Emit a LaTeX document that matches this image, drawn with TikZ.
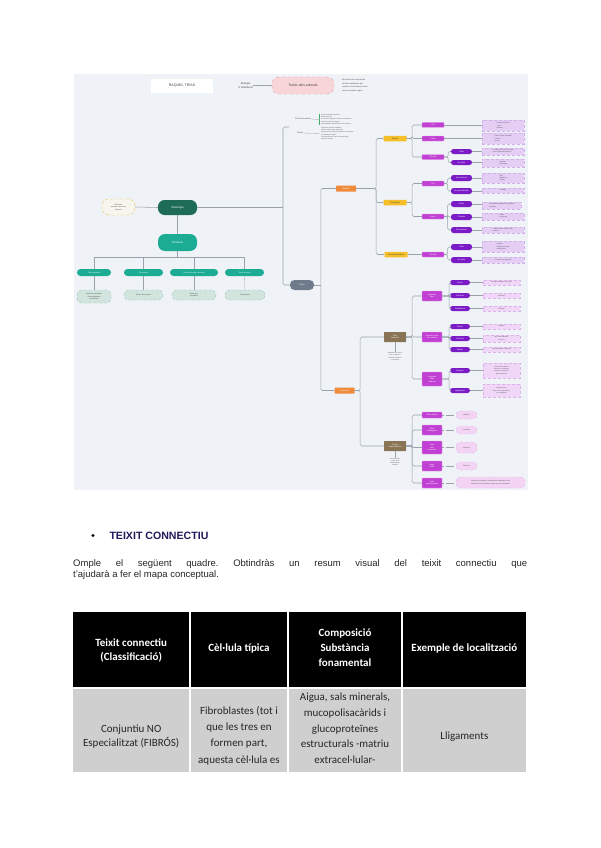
\documentclass[tikz,border=0pt]{standalone}
\usepackage{fontspec}
\setmainfont{Liberation Sans}
\newfontfamily\carl{Carlito}
\frenchspacing
\definecolor{bgC}{HTML}{EFF3F7}
\definecolor{lineC}{HTML}{9AA3AD}
\definecolor{pinkF}{HTML}{F8D5D8}
\definecolor{pinkB}{HTML}{E59AA4}
\definecolor{darkG}{HTML}{1E6B58}
\definecolor{tealC}{HTML}{1CAB93}
\definecolor{lightT}{HTML}{D2E4DE}
\definecolor{lightTB}{HTML}{8DBFAF}
\definecolor{defF}{HTML}{F7F6EE}
\definecolor{defB}{HTML}{EFC14A}
\definecolor{grayN}{HTML}{6E7B8A}
\definecolor{orC}{HTML}{EF8A3B}
\definecolor{yelC}{HTML}{F5BF2A}
\definecolor{magC}{HTML}{C13FD3}
\definecolor{magB}{HTML}{E6A3EE}
\definecolor{purC}{HTML}{7A1BC6}
\definecolor{lpC}{HTML}{E5CEF4}
\definecolor{lpB}{HTML}{D3B0EA}
\definecolor{lpkC}{HTML}{F0D6F7}
\definecolor{lpkB}{HTML}{DDB2EA}
\definecolor{rC}{HTML}{F4D4F4}
\definecolor{brC}{HTML}{8A7456}
\definecolor{txC}{HTML}{444444}
\definecolor{navyC}{HTML}{1F1A5A}
\definecolor{cellC}{HTML}{CFCFCF}
\definecolor{brkC}{HTML}{3FAE6A}
\tikzset{
  sz/.style 2 args={minimum width=#1pt, minimum height=#2pt},
  ln/.style={draw=lineC, line width=0.55pt},
  rc/.style={rounded corners=1.5pt},
  mm/.style={inner sep=0pt, align=center, text=white, font=\fontsize{2}{2.5}\selectfont},
  mmt/.style={inner sep=0pt, text=txC, font=\fontsize{1.7}{2.3}\selectfont},
  titleb/.style={mm, fill=white, text=txC, font=\fontsize{3.6}{4}\selectfont},
  pinkn/.style={mm, fill=pinkF, draw=pinkB, dashed, line width=0.4pt, rounded corners=7pt, text=txC, font=\fontsize{3.4}{4}\selectfont},
  hist/.style={mm, fill=darkG, rounded corners=6.5pt, font=\fontsize{2.8}{3.2}\selectfont},
  defn/.style={mm, fill=defF, draw=defB, densely dashed, line width=0.4pt, rounded corners=7pt, text=txC, font=\fontsize{1.8}{2.4}\selectfont},
  divn/.style={mm, fill=tealC, rounded corners=7pt, font=\fontsize{2.8}{3.2}\selectfont},
  tealn/.style={mm, fill=tealC, rounded corners=3.5pt},
  lightn/.style={mm, fill=lightT, draw=lightTB, densely dashed, line width=0.3pt, rounded corners=4.5pt, text=txC, font=\fontsize{1.7}{2.3}\selectfont},
  grayn/.style={mm, fill=grayN, rounded corners=4.5pt, font=\fontsize{2.2}{2.6}\selectfont},
  orn/.style={mm, fill=orC, rounded corners=0.5pt},
  yeln/.style={mm, fill=yelC, rounded corners=0.5pt, text=txC},
  magn/.style={mm, fill=magC, draw=magB, line width=0.3pt, rounded corners=0.6pt},
  purn/.style={mm, fill=purC, rounded corners=2.5pt},
  brn/.style={mm, fill=brC, rounded corners=0.5pt},
  lpbox/.style={mmt, fill=lpC, draw=lpB, densely dashed, line width=0.3pt, align=left, font=\fontsize{1.5}{2.1}\selectfont},
  lpkbox/.style={mmt, fill=lpkC, draw=lpkB, densely dashed, line width=0.3pt, align=center, font=\fontsize{1.5}{2.1}\selectfont},
  rn/.style={mmt, fill=rC, draw=lpkB, densely dashed, line width=0.3pt, rounded corners=4pt, align=center, font=\fontsize{1.6}{2.2}\selectfont},
  hd/.style={inner sep=0pt, align=center, text=white, font=\carl\bfseries\fontsize{11}{14.5}\selectfont},
  cl/.style={inner sep=0pt, align=center, text=black!85, font=\carl\fontsize{11}{15.8}\selectfont},
}
\begin{document}
\begin{tikzpicture}[x=1pt,y=-1pt]
\useasboundingbox (0,0) rectangle (600,848);
\fill[white] (0,0) rectangle (600,848);
% ---------- mind map background ----------
\fill[bgC] (74,74) rectangle (528,490);

% header
\node[titleb, sz={62}{14}] (title) at (182,86) {RAQUEL TRIAS};
\node[mmt, align=center, font=\fontsize{2.6}{4.4}\selectfont] (ubic) at (245.5,85.5) {Biologia\\1r Batxillerat};
\node[pinkn, sz={62}{17}] (pink) at (303,85.5) {Teixits dels animals};
\node[mmt, anchor=west, align=left, font=\fontsize{2}{3.7}\selectfont] (note) at (342,85.5) {Els teixits són conjunts de\\cèl·lules semblants que\\realitzen una mateixa funció i\\tenen un mateix origen};
\draw[ln] (ubic.east) -- (pink.west);

% top labels
\node[mmt, font=\fontsize{2}{2.4}\selectfont] (lab1) at (303,119) {Cèl·lula eucariota};
\node[mmt, anchor=west, align=left, font=\fontsize{1.5}{2.4}\selectfont] (txt1) at (321,119.5) {Unitat estructural i funcional\\dels éssers vius\\conté nucli i orgànuls envoltats de membrana\\forma els teixits i els òrgans\\especialització i diferenciació de les cèl·lules};
\draw[brkC, line width=0.5pt] ([xshift=-1.5pt]txt1.north west) -- ([xshift=-1.5pt]txt1.south west);
\draw[ln, line width=0.3pt] (lab1.east) -- ([xshift=-1.5pt]txt1.west);
\node[mmt, font=\fontsize{2}{2.4}\selectfont] (lab2) at (300,133) {Teixits};
\node[mmt, anchor=west, align=left, font=\fontsize{1.5}{2.3}\selectfont] (txt2) at (321,133.5) {conjunt de cèl·lules semblants\\amb un mateix origen embrionari\\que fan una funció determinada dins l'organisme\\es classifiquen segons\\la seva estructura i funció en quatre tipus\\de teixits animals};
\draw[ln, line width=0.3pt] (lab2.east) -- ([xshift=-1pt]txt2.west);

% centre
\node[hist, sz={39}{15}] (hist) at (177.5,207.5) {Histologia};
\node[defn, sz={33}{16}] (def) at (118.5,207) {Els teixits\\animals i les seves\\funcions};
\node[divn, sz={39}{17}] (div) at (177.5,242.5) {Divisions};
\draw[ln] (def.east) -- (hist.west);
\draw[ln] (hist.south) -- (div.north);

\node[tealn, sz={34}{7}] (t1) at (94,272.5) {Teixit epitelial};
\node[tealn, sz={39}{7}] (t2) at (143.5,272.5) {Connectiu};
\node[tealn, sz={48}{7}] (t3) at (194,272.5) {Teixit muscular i nerviós};
\node[tealn, sz={39}{7}] (t4) at (244.5,272.5) {Teixit nerviós};
\node[lightn, sz={34}{13}] (l1) at (94,296.5) {Recobreix superfícies\\i forma glàndules\\de secreció};
\node[lightn, sz={39}{10}] (l2) at (143.5,295) {Uneix i dona suport};
\node[lightn, sz={44}{10}] (l3) at (194,295) {Moviment i\\contracció};
\node[lightn, sz={40}{10}] (l4) at (245,295) {Comunicació};
\draw[ln] (div.south) -- ++(0,6.5) coordinate (dj);
\draw[ln] (t1.north) |- (dj) -| (t4.north);
\draw[ln] (t2.north) |- (dj);
\draw[ln] (t3.north) |- (dj);
\draw[ln, line width=0.3pt] (t1.south) -- (l1.north);
\draw[ln] (t2.south) -- (l2.north);
\draw[ln, line width=0.3pt] (t3.south) -- (l3.north);
\draw[ln, line width=0.3pt] (t4.south) -- (l4.north);

% spine
\node[grayn, sz={24}{10}] (gray) at (302,285) {Tipus};
\coordinate (spT) at (289,127);
\coordinate (spX) at (283,127);
\draw[ln, rc] (spT) -- (spX) |- (gray.west);
\draw[ln] (hist.east) -- (hist.east -| spX);
\node[orn, sz={20}{6}] (ep) at (346,188.5) {Epitelial};
\node[orn, sz={20}{6}] (con) at (344.5,390.5) {Connectiu};
\draw[ln, rc] (ep.west) -- ++(-15,0) |- (con.west);
\draw[ln, line width=0.3pt] (gray.east) -- ++(7,0);

% ---------- epithelial branch ----------
\node[yeln, sz={23}{5.5}] (y1) at (395,138.5) {Simple};
\node[yeln, sz={23}{5.5}] (y2) at (395,202.5) {Estratificat};
\node[yeln, sz={23}{5.5}] (y3) at (396,254.5) {Pseudoestratificat};
\foreach \t in {y1,y2,y3} \draw[ln, rc] (ep.east) -- ++(20,0) |- (\t.west);

\node[magn, sz={22}{5}] (m1) at (433,125) {Pla};
\node[magn, sz={22}{5}] (m2) at (433,138.5) {Cúbic};
\node[magn, sz={22}{5}] (m3) at (433,157) {Cilíndric};
\foreach \t in {m1,m2,m3} \draw[ln, rc] (y1.east) -- ++(5.5,0) |- (\t.west);
\node[purn, sz={21}{5}] (p1) at (461.5,151.5) {Ciliat};
\node[purn, sz={21}{5}] (p2) at (461.5,162.5) {No ciliat};
\foreach \t in {p1,p2} \draw[ln, rc] (m3.east) -- ++(4,0) |- (\t.west);

\node[lpbox, sz={42}{11}] (B1) at (503,125.5) {• Alvèols pulmonars\\• Vasos\\• Endoteli};
\node[lpbox, sz={42}{11}] (B2) at (503,138.5) {• Túbuls renals i glàndules\\• Tiroides\\• Ovaris};
\node[lpbox, sz={42}{7}] (B3) at (503,151.5) {• Trompes de Fal·lopi i bronquis\\• Vies respiratòries superiors};
\node[lpbox, sz={42}{8}] (B4) at (503,163) {• Estómac\\• Intestí prim};
\draw[ln] (m1.east) -- (m1.east -| B1.west);
\draw[ln] (m2.east) -- (m2.east -| B2.west);
\draw[ln] (p1.east) -- (p1.east -| B3.west);
\draw[ln] (p2.east) -- (p2.east -| B4.west);

\node[magn, sz={22}{5}] (m4) at (433,183.5) {Pla};
\node[magn, sz={22}{5}] (m5) at (433,216.5) {Altres};
\foreach \t in {m4,m5} \draw[ln, rc] (y2.east) -- ++(5.5,0) |- (\t.west);
\node[purn, sz={21}{6}] (p3) at (461.5,178) {Queratinitzat};
\node[purn, sz={21}{6}] (p4) at (461.5,191) {No queratinitzat};
\node[purn, sz={21}{6}] (p5) at (461.5,204) {Cúbic};
\node[purn, sz={21}{6}] (p6) at (461.5,217) {Cilíndric};
\node[purn, sz={21}{6}] (p7) at (461.5,230) {De transició};
\foreach \t in {p3,p4} \draw[ln, rc] (m4.east) -- ++(3.5,0) |- (\t.west);
\foreach \t in {p5,p6,p7} \draw[ln, rc] (m5.east) -- ++(3.5,0) |- (\t.west);
\node[lpbox, sz={42}{10}] (B5) at (503,178) {• Pell\\• Epidermis\\• Ungles};
\node[lpbox, sz={42}{5}] (B6) at (503,190.5) {• Esòfag};
\node[lpbox, sz={39}{7}] (B7) at (501.5,205.5) {• Conductes de glàndules sudorípares\\i mamàries};
\node[lpbox, sz={42}{7}] (B8) at (503,216.5) {• Uretra\\• Conjuntiva};
\node[lpbox, sz={42}{6}] (B9) at (503,230) {• Bufeta urinària i urèters, vies\\urinàries};
\draw[ln] (p3.east) -- (p3.east -| B5.west);
\draw[ln] (p4.east) -- (p4.east -| B6.west);
\draw[ln, line width=0.3pt] (p5.east) -- (p5.east -| B7.west);
\draw[ln] (p6.east) -- (p6.east -| B8.west);
\draw[ln] (p7.east) -- (p7.east -| B9.west);

\node[magn, sz={22}{5}] (m6) at (433,254.5) {Cilíndric};
\draw[ln] (y3.east) -- (m6.west);
\node[purn, sz={21}{6}] (p8) at (461.5,247) {Ciliat};
\node[purn, sz={21}{6}] (p9) at (461.5,260) {No ciliat};
\foreach \t in {p8,p9} \draw[ln, rc] (m6.east) -- ++(3.5,0) |- (\t.west);
\node[lpbox, sz={42}{11}] (B10) at (503,246.5) {• Tràquea\\• Bronquis principals\\• Cavitat nasal};
\node[lpbox, sz={42}{6}] (B11) at (503,260) {• Conductes de glàndules};
\draw[ln] (p8.east) -- (p8.east -| B10.west);
\draw[ln] (p9.east) -- (p9.east -| B11.west);

% ---------- connective branch ----------
\node[brn, sz={22}{10}] (b1) at (395,337) {Teixit\\conjuntiu};
\node[brn, sz={22}{10}] (b2) at (395,446) {Teixits\\especialitzats};
\foreach \t in {b1,b2} \draw[ln, rc] (con.east) -- ++(5.5,0) |- (\t.west);
\node[mmt, align=center, font=\fontsize{1.4}{2.2}\selectfont] (bn1) at (395,356.5) {Fibroblasts que formen\\fibres i substància\\fonamental abundant\\i vascularitzat};
\node[mmt, align=center, font=\fontsize{1.4}{2.2}\selectfont] (bn2) at (395,462) {Cèl·lules pròpies\\i matriu amb\\característiques\\especials};
\draw[ln] (b1.south) -- (bn1.north);
\draw[ln] (b2.south) -- (bn2.north);

\node[magn, sz={20}{10}] (m7) at (432,296) {Conjuntiu\\laxe};
\node[magn, sz={20}{10}] (m8) at (432,337) {Conjuntiu dens\\no modelat};
\node[magn, sz={20}{14}] (m9) at (432,379) {Conjuntiu\\dens\\modelat};
\foreach \t in {m7,m8,m9} \draw[ln, rc] (b1.east) -- ++(6,0) |- (\t.west);

\node[purn, sz={20}{5}] (q1) at (460,282.5) {Fibres};
\node[purn, sz={20}{5}] (q2) at (460,295.5) {Cèl·lules};
\node[purn, sz={20}{5}] (q3) at (460,308.5) {Substància};
\node[purn, sz={20}{5}] (q4) at (460,326.5) {Fibres};
\node[purn, sz={20}{5}] (q5) at (460,338.5) {Cèl·lules};
\node[purn, sz={20}{5}] (q6) at (460,349.5) {Matriu};
\node[purn, sz={20}{5}] (q7) at (460,370.5) {Tendons};
\node[purn, sz={20}{5}] (q8) at (460,390.5) {Lligaments};
\foreach \t in {q1,q2,q3} \draw[ln, rc] (m7.east) -- ++(7,0) |- (\t.west);
\foreach \t in {q4,q5,q6} \draw[ln, rc] (m8.east) -- ++(7,0) |- (\t.west);
\foreach \t in {q7,q8} \draw[ln, rc] (m9.east) -- ++(7,0) |- (\t.west);

\node[lpkbox, sz={37}{5}] (C1) at (501.5,282.5) {col·lagen, elàstiques i reticulars};
\node[lpkbox, sz={37}{5}] (C2) at (501.5,295.5) {fibroblasts};
\node[lpkbox, sz={37}{5}] (C3) at (501.5,308.5) {abundant};
\node[lpkbox, sz={37}{5}] (C4) at (501.5,326.5) {col·lagen};
\node[lpkbox, sz={37}{7}] (C5) at (501.5,338.5) {fibres desordenades\\en feixos};
\node[lpkbox, sz={37}{5}] (C6) at (501.5,349.5) {poca substància fonamental};
\node[lpkbox, sz={37}{15}] (C7) at (501.5,370.5) {Uneixen els músculs\\als ossos i transmeten\\la força de contracció\\fibres paral·leles};
\node[lpkbox, sz={37}{13}] (C8) at (501.5,390.5) {Uneixen ossos\\entre si a les articulacions\\i els estabilitzen};
\foreach \a/\b in {q1/C1,q2/C2,q3/C3,q4/C4,q5/C5,q6/C6,q7/C7,q8/C8} \draw[ln] (\a.east) -- (\a.east -| \b.west);

\node[magn, sz={20}{6}] (m10) at (432,415) {Teixit adipós};
\node[magn, sz={20}{10}] (m11) at (432,430) {Teixit\\cartilaginós};
\node[magn, sz={20}{13}] (m12) at (432,447.5) {Teixit\\ossi\\compacte};
\node[magn, sz={20}{10}] (m13) at (432,466) {Sang i\\limfa};
\node[magn, sz={20}{10}] (m14) at (432,483) {Teixit\\ossi esponjós};
\foreach \t in {m10,m11,m12,m13,m14} \draw[ln, rc] (b2.east) -- ++(6,0) |- (\t.west);

\node[rn, sz={21}{8}] (r1) at (466.5,415) {Adipòcits};
\node[rn, sz={21}{8}] (r2) at (466.5,430) {Condròcits};
\node[rn, sz={21}{11}] (r3) at (466.5,447.5) {Osteòcits};
\node[rn, sz={21}{8}] (r4) at (466.5,466) {Eritròcits};
\node[rn, sz={69}{11}] (r5) at (490.5,482.5) {Osteòcits, osteoblasts i osteoclasts en trabècules, amb\\medul·la òssia vermella als espais entre les trabècules};
\foreach \a/\b in {m10/r1,m11/r2,m12/r3,m13/r4,m14/r5} \draw[ln, line width=0.3pt] ([xshift=4pt]\a.east) -- ([xshift=-2pt]\a.east -| \b.west);
\foreach \a in {m10,m11,m12,m13,m14} \draw[ln] (\a.east) -- ++(2,0);

% ---------- text ----------
\fill[black] (93,535.5) circle (1.7);
\node[anchor=base west, inner sep=0pt, text=navyC, font=\bfseries\fontsize{10.6}{12}\selectfont] (head) at (109.3,539.5) {TEIXIT CONNECTIU};
\node[anchor=base west, inner sep=0pt, text=black!85, font=\fontsize{9.5}{11}\selectfont] (p1l) at (73,566.7) {\makebox[454pt][s]{Omple el següent quadre. Obtindràs un resum visual del teixit connectiu que}};
\node[anchor=base west, inner sep=0pt, text=black!85, font=\fontsize{9.5}{11}\selectfont] (p2l) at (73,577.5) {t'ajudarà a fer el mapa conceptual.};

% ---------- table ----------
\fill[black] (73.3,612.3) rectangle (189,686.7);
\fill[black] (190.7,612.3) rectangle (287.3,686.7);
\fill[black] (289,612.3) rectangle (401,686.7);
\fill[black] (402.7,612.3) rectangle (526,686.7);
\fill[cellC] (73.3,688.8) rectangle (189,771.7);
\fill[cellC] (190.7,688.8) rectangle (287.3,771.7);
\fill[cellC] (289,688.8) rectangle (401,771.7);
\fill[cellC] (402.7,688.8) rectangle (526,771.7);

\node[hd, font=\carl\bfseries\fontsize{11}{14}\selectfont] (h1) at (131.2,650) {Teixit connectiu\\(Classificació)};
\node[hd] (h2) at (239,648) {Cèl·lula típica};
\node[hd, font=\carl\bfseries\fontsize{11}{15}\selectfont] (h3) at (345,648) {Composició\\Substància\\fonamental};
\node[hd] (h4) at (464.4,648) {Exemple de localització};

\node[cl, font=\carl\fontsize{11}{13.3}\selectfont] (c1) at (131.2,736.7) {Conjuntiu NO\\Especialitzat (FIBRÓS)};
\node[cl, font=\carl\fontsize{11}{16.1}\selectfont] (c2) at (239,735.8) {Fibroblastes (tot i\\que les tres en\\formen part,\\aquesta cèl·lula es};
\node[cl] (c3) at (345,728.3) {Aigua, sals minerals,\\mucopolisacàrids i\\glucoproteïnes\\estructurals -matriu\\extracel·lular-};
\node[cl] (c4) at (464.4,736.7) {Lligaments};
\end{tikzpicture}
\end{document}
